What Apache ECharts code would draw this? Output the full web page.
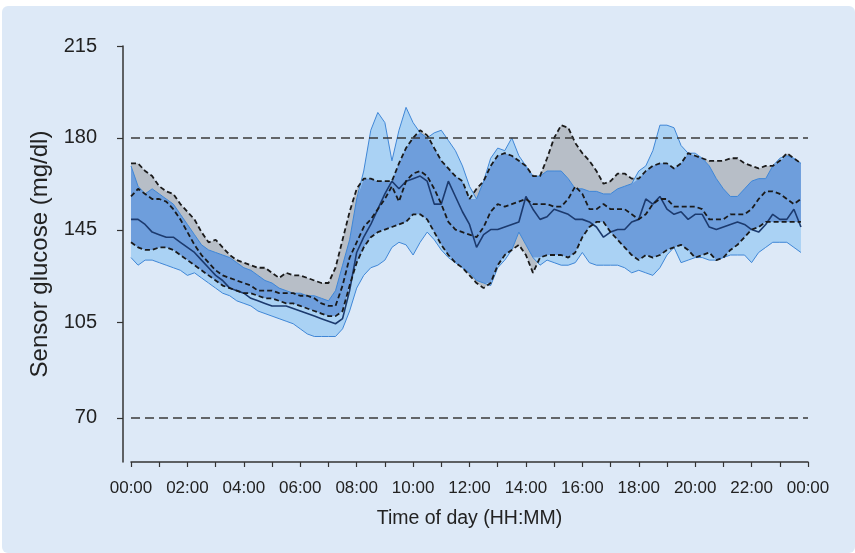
<!DOCTYPE html>
<html>
<head>
<meta charset="utf-8">
<script src="https://cdn.jsdelivr.net/npm/echarts@6/dist/echarts.min.js"></script>
<style>
html,body{margin:0;padding:0;background:#ffffff;width:855px;height:553px;overflow:hidden;}
#bg{position:absolute;left:2px;top:6px;width:853px;height:547px;background:#dde9f7;border-radius:6px;}
#chart{position:absolute;left:0;top:0;width:855px;height:553px;}
</style>
</head>
<body>
<div id="bg"></div>
<div id="chart"></div>
<script>
// ---- data (mg/dl, 15-minute steps from 00:00 to 23:45) ----
const upperA = [170,170,167,165, 161,159,158,154, 151,148,143,139, 140,137,134,132, 131,130,129,129, 127,125,127,126, 126,125,124,123, 123,129,140,151, 160,164,164,163, 163,163,170,176, 180,183,181,176, 171,168,165,163, 156,160,163,169, 173,174,173,171, 169,165,165,172, 180,185,184,178, 174,171,167,162, 163,166,166,164, 164,167,169,170, 170,168,170,174, 173,172,171,171, 171,172,172,170, 169,168,169,169, 171,174,172,170];
const medianA = [157,160,158,156, 156,155,152,148, 143,138,134,131, 128,126,125,124, 123,122,120,120, 120,119,119,119, 118,118,117,115, 114,114,122,133, 139,145,148,152, 156,161,155,163, 166,167,165,160, 154,147,144,143, 142,141,145,151, 154,153,154,155, 156,154,154,154, 153,153,156,161, 158,152,152,154, 152,152,152,150, 148,150,154,156, 156,153,153,153, 153,152,148,148, 148,150,150,150, 152,156,159,159, 158,156,154,156];
const lowerA = [139,137,136,136, 137,137,136,134, 132,130,128,126, 124,122,121,120, 119,119,118,117, 117,116,115,115, 114,113,112,111, 110,110,112,122, 131,137,141,143, 144,145,146,147, 150,150,148,143, 138,134,131,129, 126,123,121,123, 130,134,136,138, 134,127,133,134, 134,134,133,135, 141,145,147,147, 143,140,137,134, 132,134,133,134, 136,137,138,136, 133,134,135,132, 133,136,138,141, 144,145,147,147, 147,147,147,147];
const upperB = [169,161,158,160, 158,156,154,150, 146,142,138,136, 135,134,133,131, 129,128,126,124, 123,121,120,119, 119,118,118,117, 116,120,130,140, 156,167,183,190, 186,171,183,192, 186,182,180,182, 183,179,175,169, 161,156,163,172, 176,175,180,173, 169,165,165,167, 167,167,164,160, 160,159,159,158, 158,160,161,162, 167,169,175,185, 185,184,177,174, 174,172,169,164, 160,157,157,160, 163,164,164,169, 172,173,172,170];
const medianB = [148,148,146,143, 142,141,141,139, 137,135,132,129, 126,124,121,120, 119,117,116,115, 114,114,114,113, 112,111,110,109, 108,107,109,120, 135,141,146,152, 158,163,160,163, 164,165,163,154, 154,163,157,151, 146,137,142,144, 144,145,146,147, 157,152,148,149, 152,151,150,148, 148,147,145,141, 143,144,144,147, 148,156,154,157, 152,150,151,148, 150,150,145,144, 145,146,147,146, 144,143,146,150, 148,148,152,145];
const lowerB = [133,130,132,132, 131,130,129,128, 126,127,125,123, 121,119,118,116, 115,114,112,111, 110,109,108,107, 105,103,102,102, 102,102,105,112, 121,126,129,130, 132,137,139,138, 134,139,143,140, 136,133,131,129, 127,124,123,122, 129,132,136,143, 138,133,130,132, 131,130,130,131, 135,131,130,130, 130,130,129,127, 128,127,126,129, 134,137,131,132, 133,133,132,132, 133,134,134,134, 131,135,137,139, 139,139,137,135];
const refLines = [70, 180];
const yTickValues = [70, 107.4, 143.9, 180, 216.1];
const yTickLabels = ["70", "105", "145", "180", "215"];

// time categories 00:00 ... 24:00 (15-minute grid)
const pad = n => (n < 10 ? '0' : '') + n;
const times = [];
for (let h = 0; h < 24; h++) for (let m = 0; m < 60; m += 15) times.push(pad(h) + ':' + pad(m));
times.push('24:00');

const FONT = 'Liberation Sans, Arial, sans-serif';
const COL_GRAY = '#b7bec7';
const COL_LIGHT = '#aad2f4';
const COL_DARK = '#6e9edc';

function band(id, lower, upper, color) {
  return [
    { name: id + 'Base', type: 'line', stack: id, data: lower, symbol: 'none',
      lineStyle: { opacity: 0, width: 0 }, silent: true, z: 1 },
    { name: id, type: 'line', stack: id, data: upper.map((u, i) => Math.max(0, u - lower[i])), symbol: 'none',
      lineStyle: { opacity: 0, width: 0 }, areaStyle: { color: color, opacity: 1 }, silent: true, z: 1 }
  ];
}
const overlapLow = lowerA.map((v, i) => Math.max(v, lowerB[i]));
const overlapHigh = upperA.map((v, i) => Math.min(v, upperB[i]));

function line(id, data, color, width, type) {
  return { name: id, type: 'line', data: data, symbol: 'none', silent: true, z: 3,
    lineStyle: { color: color, width: width, type: type || 'solid' } };
}

const series = [].concat(
  band('bandA', lowerA, upperA, COL_GRAY),
  band('bandB', lowerB, upperB, COL_LIGHT),
  band('bandO', overlapLow, overlapHigh, COL_DARK),
  [
    line('upperB', upperB, '#3f86d6', 1),
    line('lowerB', lowerB, '#3f86d6', 1),
    line('medianB', medianB, '#1c3a6e', 1.6),
    line('upperA', upperA, '#1a1a1a', 1.8, [5, 3]),
    line('medianA', medianA, '#1a1a1a', 1.8, [5, 3]),
    line('lowerA', lowerA, '#1a1a1a', 1.8, [5, 3]),
    { name: 'ref', type: 'line', data: [], symbol: 'none', silent: true, z: 4,
      markLine: { silent: true, symbol: 'none', label: { show: false },
        lineStyle: { color: '#3a3a3a', width: 1.6, type: [9, 5] },
        data: refLines.map(v => ({ yAxis: v })) } }
  ]
);

const chart = echarts.init(document.getElementById('chart'), null, { renderer: 'canvas', width: 855, height: 553 });
chart.setOption({
  animation: false,
  backgroundColor: 'transparent',
  grid: { left: 131, right: 47, top: 46, bottom: 91, containLabel: false },
  xAxis: {
    type: 'category', data: times, boundaryGap: false,
    axisLine: { lineStyle: { color: '#333', width: 1.5 } },
    axisTick: { interval: (i) => i % 4 === 0, length: 5, lineStyle: { color: '#333', width: 1.2 } },
    axisLabel: { interval: (i) => i % 8 === 0, formatter: v => (v === '24:00' ? '00:00' : v),
      color: '#222', fontSize: 17, fontFamily: FONT, margin: 18 },
    splitLine: { show: false },
    name: 'Time of day (HH:MM)', nameLocation: 'middle', nameGap: 47,
    nameTextStyle: { color: '#222', fontSize: 19.5, fontFamily: FONT }
  },
  yAxis: {
    type: 'value', min: 52.7, max: 216.1, offset: 8,
    axisLine: { show: true, lineStyle: { color: '#333', width: 1.5 } },
    axisTick: { show: true, length: 6, customValues: yTickValues, lineStyle: { color: '#333', width: 1.2 } },
    axisLabel: { customValues: yTickValues, color: '#222', fontSize: 20, fontFamily: FONT, margin: 26,
      formatter: v => {
        let best = 0;
        yTickValues.forEach((t, i) => { if (Math.abs(t - v) < Math.abs(yTickValues[best] - v)) best = i; });
        return yTickLabels[best];
      } },
    splitLine: { show: false },
    name: 'Sensor glucose (mg/dl)', nameLocation: 'middle', nameGap: 67, nameRotate: 90,
    nameTextStyle: { color: '#222', fontSize: 24, fontFamily: FONT }
  },
  series: series
});
</script>
</body>
</html>
